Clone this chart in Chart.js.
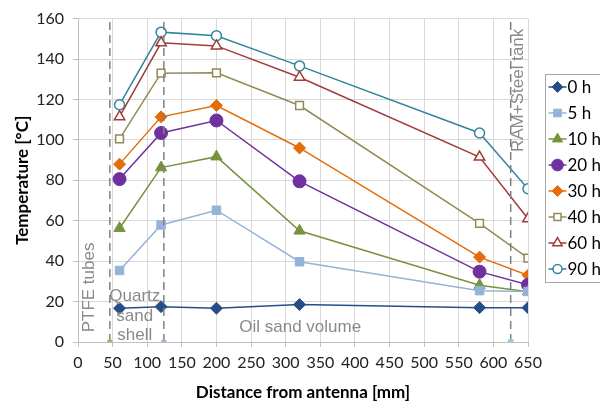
<!DOCTYPE html>
<html>
<head>
<meta charset="utf-8">
<script src="https://cdn.jsdelivr.net/npm/chart.js@4.4.0/dist/chart.umd.min.js"></script>
<style>
  html, body { margin: 0; padding: 0; background: #fff; }
  #wrap { width: 600px; height: 403px; position: relative; }
</style>
</head>
<body>
<div id="wrap"><canvas id="chart" width="600" height="403"></canvas></div>
<script>
// distances from antenna (mm)
const distances = [60, 120, 200, 320, 580, 650];

const seriesLabels = ['0 h', '5 h', '10 h', '20 h', '30 h', '40 h', '60 h', '90 h'];

const temp0h  = [16.7, 17.5, 16.7, 18.5, 17.0, 17.0];
const temp5h  = [35.4, 57.9, 65.2, 39.7, 25.4, 25.0];
const temp10h = [56.3, 86.3, 91.7, 55.0, 28.1, 24.9];
const temp20h = [80.6, 103.4, 109.6, 79.5, 34.8, 28.3];
const temp30h = [88.0, 111.4, 117.0, 96.0, 42.0, 33.0];
const temp40h = [100.5, 133.0, 133.2, 117.0, 58.7, 41.5];
const temp60h = [111.5, 148.0, 146.5, 131.0, 91.5, 61.0];
const temp90h = [117.4, 153.3, 151.5, 136.6, 103.4, 75.8];

// boundaries between materials (mm)
const boundaries = [46, 124, 625];
const boundaryMarkColors = ['#9bbb59', '#b4a7d6', '#93cddd'];

const xTicks = [0, 50, 100, 150, 200, 250, 300, 350, 400, 450, 500, 550, 600, 650];
const yTicks = [0, 20, 40, 60, 80, 100, 120, 140, 160];

const styles = [
  { color: '#264e86', point: 'rectRot', radius: 6, fill: true },
  { color: '#95b3d7', point: 'rect', radius: 6, fill: true },
  { color: '#77933c', point: 'triangle', radius: 6.5, fill: true },
  { color: '#7030a0', point: 'circle', radius: 6.5, fill: true },
  { color: '#e46c0a', point: 'rectRot', radius: 6, fill: true },
  { color: '#948a54', point: 'rect', radius: 5.5, fill: false },
  { color: '#a33b3a', point: 'triangle', radius: 6, fill: false },
  { color: '#31859c', point: 'circle', radius: 5, fill: false }
];

const allSeries = [temp0h, temp5h, temp10h, temp20h, temp30h, temp40h, temp60h, temp90h];

const datasets = [];
boundaries.forEach(function (b, i) {
  datasets.push({
    label: 'boundary' + i,
    data: [{ x: b, y: 0 }, { x: b, y: 160 }],
    borderColor: '#808080',
    borderWidth: 1.5,
    borderDash: [8, 5],
    pointRadius: [i === 2 ? 3 : 2, 0],
    pointStyle: i === 2 ? 'rect' : 'circle',
    pointBackgroundColor: boundaryMarkColors[i],
    pointBorderColor: boundaryMarkColors[i]
  });
});

allSeries.forEach(function (s, i) {
  const st = styles[i];
  datasets.push({
    label: seriesLabels[i],
    data: s.map(function (v, j) { return { x: distances[j], y: v }; }),
    borderColor: st.color,
    borderWidth: 1.5,
    pointStyle: st.point,
    pointRadius: st.radius,
    pointBorderWidth: st.fill ? 1 : 1.5,
    pointBackgroundColor: st.fill ? st.color : '#ffffff',
    pointBorderColor: st.color,
    tension: 0
  });
});

const annotationFont = '17px "Liberation Sans", Arial, sans-serif';

const textPlugin = {
  id: 'materialText',
  afterDatasetsDraw: function (chart) {
    const ctx = chart.ctx, x = chart.scales.x, y = chart.scales.y;
    ctx.save();
    ctx.fillStyle = '#8a8a8a';
    ctx.font = annotationFont;
    ctx.textAlign = 'center';
    ctx.textBaseline = 'middle';

    // PTFE tubes (vertical)
    ctx.save();
    ctx.translate(x.getPixelForValue(17), y.getPixelForValue(27));
    ctx.rotate(-Math.PI / 2);
    ctx.fillText('PTFE tubes', 0, 0);
    ctx.restore();

    // Quartz sand shell
    const qx = x.getPixelForValue(82);
    ctx.fillText('Quartz', qx, y.getPixelForValue(22.5));
    ctx.fillText('sand', qx, y.getPixelForValue(12.7));
    ctx.fillText('shell', qx, y.getPixelForValue(3.5));

    // Oil sand volume
    ctx.fillText('Oil sand volume', x.getPixelForValue(321), y.getPixelForValue(7.4));

    // RAM+Steel tank (vertical)
    ctx.save();
    ctx.translate(x.getPixelForValue(636), y.getPixelForValue(124.5));
    ctx.rotate(-Math.PI / 2);
    ctx.fillText('RAM+Steel tank', 0, 0);
    ctx.restore();

    ctx.restore();
  }
};

const legendPlugin = {
  id: 'boxLegend',
  afterDraw: function (chart) {
    const ctx = chart.ctx;
    const left = 545.5, top = 74.5, rowH = 26;
    ctx.save();
    ctx.strokeStyle = '#a6a6a6';
    ctx.lineWidth = 1;
    ctx.fillStyle = '#ffffff';
    ctx.fillRect(left, top, 70, 208);
    ctx.strokeRect(left, top, 70, 208);
    ctx.font = '17px Lato, "Open Sans", sans-serif';
    ctx.textBaseline = 'middle';
    ctx.textAlign = 'left';
    seriesLabels.forEach(function (lab, i) {
      const st = styles[i];
      const cy = top + 12.5 + i * rowH;
      ctx.strokeStyle = st.color;
      ctx.lineWidth = 1.5;
      ctx.beginPath();
      ctx.moveTo(left + 3, cy);
      ctx.lineTo(left + 21, cy);
      ctx.stroke();
      ctx.fillStyle = st.fill ? st.color : '#ffffff';
      ctx.lineWidth = st.fill ? 1 : 1.5;
      Chart.helpers.drawPoint(ctx, {
        pointStyle: st.point,
        radius: st.radius * 0.9,
        rotation: 0,
        borderWidth: st.fill ? 1 : 1.5
      }, left + 12, cy);
      ctx.fillStyle = '#000000';
      ctx.fillText(lab, left + 22, cy + 1);
    });
    ctx.restore();
  }
};

new Chart(document.getElementById('chart'), {
  type: 'line',
  data: { datasets: datasets },
  options: {
    responsive: false,
    animation: false,
    layout: { padding: { top: 14, right: 72, left: 0, bottom: 0 } },
    plugins: {
      legend: { display: false },
      tooltip: { enabled: false }
    },
    scales: {
      x: {
        type: 'linear',
        min: 0,
        max: 650,
        afterBuildTicks: function (scale) {
          scale.ticks = xTicks.map(function (v) { return { value: v }; });
        },
        afterFit: function (scale) { scale.height = 61; },
        grid: { color: '#d9d9d9', tickLength: 5, tickColor: '#bfbfbf' },
        border: { color: '#bfbfbf' },
        ticks: {
          color: '#222',
          padding: 6,
          maxRotation: 0,
          autoSkip: false,
          font: { family: 'Lato, "Open Sans", sans-serif', size: 16 }
        },
        title: {
          display: true,
          text: 'Distance from antenna [mm]',
          color: '#000',
          padding: { top: 6, bottom: 0 },
          font: { family: 'Lato, "Open Sans", sans-serif', size: 17, weight: 'bold' }
        }
      },
      y: {
        min: 0,
        max: 160,
        afterBuildTicks: function (scale) {
          scale.ticks = yTicks.map(function (v) { return { value: v }; });
        },
        afterFit: function (scale) { scale.width = 78; },
        grid: { color: '#d9d9d9', tickLength: 5, tickColor: '#bfbfbf' },
        border: { color: '#bfbfbf' },
        ticks: {
          color: '#222',
          padding: 9,
          font: { family: 'Lato, "Open Sans", sans-serif', size: 16 }
        },
        title: {
          display: true,
          text: 'Temperature [°C]',
          color: '#000',
          padding: { top: 12, bottom: 0 },
          font: { family: 'Lato, "Open Sans", sans-serif', size: 17, weight: 'bold' }
        }
      }
    }
  },
  plugins: [textPlugin, legendPlugin]
});
</script>
</body>
</html>
